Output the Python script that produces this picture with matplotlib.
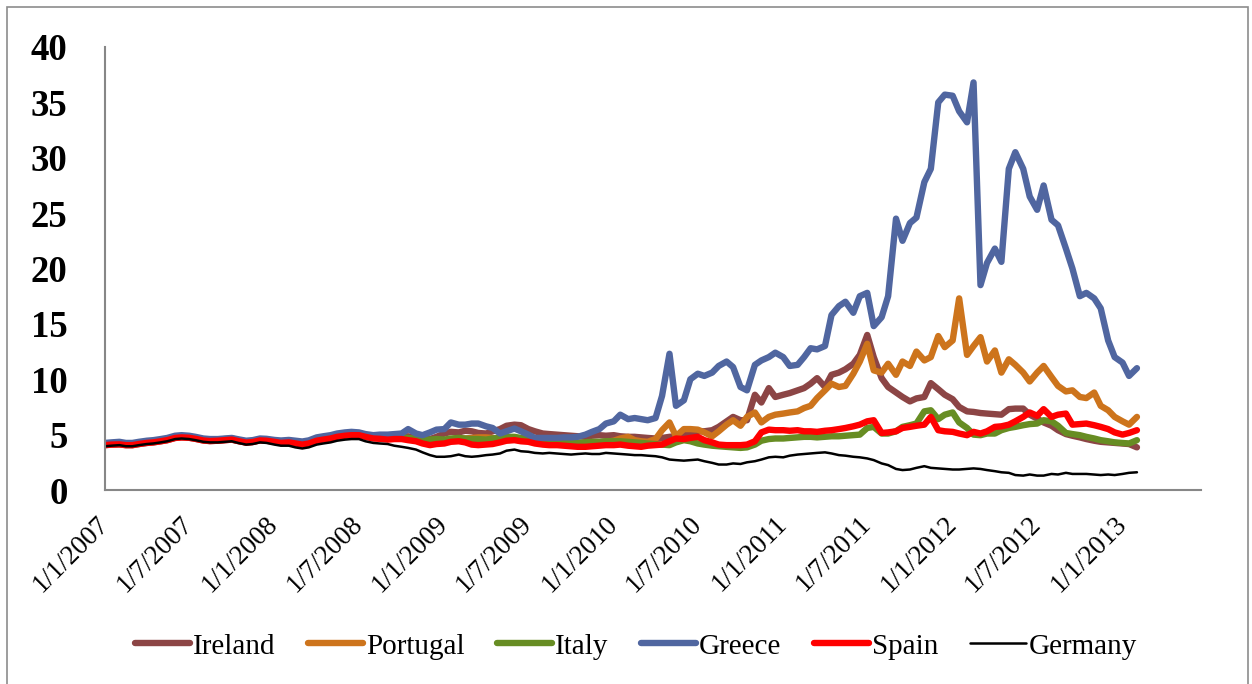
import numpy as np
import pandas as pd
import matplotlib
matplotlib.use('Agg')
import matplotlib.pyplot as plt
from matplotlib.patches import Rectangle

plt.rcParams['font.family'] = ['Liberation Serif', 'DejaVu Serif']

# semi-monthly readings (1st and 15th of each month), Jan 2007 - Feb 2013
dates = pd.date_range('2007-01-01', '2013-02-01', freq='SMS')

ireland = [
    4.05, 4.1, 4.12, 4.05, 4.05, 4.15, 4.25, 4.3, 4.4, 4.5, 4.7, 4.75, 4.72, 4.62, 4.47, 4.42, 4.45, 4.5, 4.55, 4.42, 4.3, 4.35, 4.5, 4.48,
    4.4, 4.3, 4.35, 4.3, 4.2, 4.3, 4.55, 4.65, 4.75, 4.9, 5.0, 5.05, 5.05, 4.9, 4.75, 4.75, 4.7, 4.75, 4.8, 4.85, 4.7, 4.55, 4.6, 4.8,
    5.1, 5.25, 5.2, 5.35, 5.3, 5.15, 5.1, 5.3, 5.5, 5.8, 5.9, 5.85, 5.5, 5.3, 5.1, 5.05, 5.0, 4.95, 4.9, 4.85, 4.8, 4.9, 4.95, 4.9,
    4.95, 4.85, 4.8, 4.8, 4.75, 4.7, 4.65, 4.7, 4.8, 4.85, 5.0, 5.1, 5.3, 5.3, 5.4, 5.7, 6.2, 6.6, 6.3, 6.3, 8.6, 7.9, 9.2, 8.4,
    8.6, 8.75, 9.0, 9.2, 9.6, 10.1, 9.3, 10.4, 10.6, 10.9, 11.4, 12.2, 14.0, 12.0, 10.1, 9.3, 8.8, 8.4, 8.0, 8.27, 8.4, 9.65, 9.1, 8.6,
    8.2, 7.5, 7.1, 7.05, 6.95, 6.9, 6.85, 6.8, 7.3, 7.35, 7.35, 6.8, 6.45, 6.1, 5.8, 5.4, 5.05, 4.9, 4.75, 4.6, 4.45, 4.35, 4.3, 4.25,
    4.2, 4.15, 3.85]

portugal = [
    4.1, 4.15, 4.17, 4.1, 4.1, 4.2, 4.3, 4.35, 4.45, 4.55, 4.75, 4.8, 4.77, 4.67, 4.52, 4.47, 4.5, 4.55, 4.6, 4.47, 4.33, 4.38, 4.53, 4.5,
    4.4, 4.3, 4.35, 4.3, 4.2, 4.3, 4.55, 4.65, 4.75, 4.9, 5.0, 5.05, 5.05, 4.9, 4.75, 4.7, 4.65, 4.7, 4.7, 4.6, 4.5, 4.35, 4.2, 4.3,
    4.3, 4.5, 4.6, 4.65, 4.7, 4.75, 4.75, 4.7, 4.55, 4.5, 4.55, 4.5, 4.5, 4.45, 4.4, 4.4, 4.35, 4.3, 4.25, 4.2, 4.2, 4.25, 4.3, 4.35,
    4.45, 4.65, 4.8, 4.5, 4.4, 4.35, 4.6, 5.4, 6.1, 4.85, 5.5, 5.5, 5.45, 5.2, 4.85, 5.3, 5.9, 6.3, 5.8, 6.6, 7.0, 6.1, 6.6, 6.8,
    6.9, 7.0, 7.1, 7.4, 7.6, 8.3, 9.0, 9.6, 9.3, 9.4, 10.5, 11.6, 13.2, 10.8, 10.6, 11.4, 10.4, 11.6, 11.2, 12.5, 11.7, 12.0, 13.9, 12.9,
    13.5, 17.3, 12.2, 13.0, 13.8, 11.6, 12.6, 10.6, 11.8, 11.3, 10.6, 9.8, 10.6, 11.2, 10.2, 9.4, 8.9, 9.0, 8.4, 8.3, 8.8, 7.6, 7.2, 6.6,
    6.2, 5.9, 6.6]

italy = [
    4.15, 4.2, 4.22, 4.15, 4.15, 4.25, 4.35, 4.4, 4.5, 4.6, 4.8, 4.85, 4.82, 4.72, 4.57, 4.52, 4.55, 4.6, 4.65, 4.52, 4.38, 4.43, 4.58, 4.55,
    4.45, 4.35, 4.4, 4.35, 4.25, 4.35, 4.6, 4.7, 4.8, 4.95, 5.05, 5.1, 5.1, 4.95, 4.8, 4.75, 4.7, 4.75, 4.75, 4.7, 4.65, 4.6, 4.55, 4.6,
    4.55, 4.65, 4.7, 4.65, 4.6, 4.6, 4.55, 4.65, 4.75, 4.8, 4.8, 4.7, 4.65, 4.5, 4.4, 4.35, 4.35, 4.3, 4.3, 4.25, 4.3, 4.35, 4.35, 4.4,
    4.4, 4.4, 4.35, 4.3, 4.25, 4.2, 4.15, 4.1, 4.05, 4.3, 4.5, 4.4, 4.2, 4.1, 4.0, 3.95, 3.9, 3.85, 3.8, 3.85, 4.1, 4.45, 4.6, 4.65,
    4.65, 4.7, 4.75, 4.8, 4.8, 4.75, 4.8, 4.85, 4.85, 4.9, 4.95, 5.0, 5.6, 5.7, 5.1, 5.1, 5.3, 5.7, 5.85, 6.0, 7.1, 7.2, 6.4, 6.8,
    7.0, 6.1, 5.6, 5.0, 4.95, 5.1, 5.1, 5.4, 5.6, 5.7, 5.85, 5.95, 6.0, 6.3, 6.2, 5.8, 5.15, 5.05, 4.95, 4.8, 4.65, 4.5, 4.4, 4.3,
    4.25, 4.2, 4.5]

greece = [
    4.25, 4.3, 4.35, 4.25, 4.25, 4.35, 4.45, 4.5, 4.6, 4.7, 4.9, 4.95, 4.9, 4.8, 4.65, 4.6, 4.6, 4.65, 4.7, 4.58, 4.45, 4.5, 4.65, 4.62,
    4.52, 4.47, 4.52, 4.45, 4.38, 4.48, 4.75, 4.85, 4.95, 5.1, 5.2, 5.25, 5.2, 5.05, 4.95, 5.0, 5.0, 5.05, 5.1, 5.5, 5.1, 4.95, 5.2, 5.45,
    5.5, 6.1, 5.9, 5.9, 6.0, 6.0, 5.75, 5.6, 5.1, 5.3, 5.55, 5.3, 5.0, 4.7, 4.7, 4.7, 4.7, 4.75, 4.75, 4.8, 5.0, 5.25, 5.5, 6.0,
    6.2, 6.8, 6.4, 6.5, 6.4, 6.3, 6.5, 8.5, 12.3, 7.6, 8.1, 10.0, 10.5, 10.3, 10.6, 11.2, 11.6, 11.1, 9.3, 9.0, 11.3, 11.7, 12.0, 12.4,
    12.0, 11.2, 11.3, 12.0, 12.8, 12.7, 13.0, 15.8, 16.6, 17.0, 16.0, 17.5, 17.8, 14.8, 15.6, 17.5, 24.5, 22.5, 24.1, 24.6, 27.8, 29.0, 35.0, 35.7,
    35.6, 34.2, 33.2, 36.8, 18.5, 20.5, 21.8, 20.6, 29.0, 30.5, 29.0, 26.5, 25.3, 27.5, 24.4, 23.9, 21.8, 20.0, 17.5, 17.8, 17.3, 16.4, 13.5, 12.0,
    11.5, 10.3, 11.0]

spain = [
    4.05, 4.1, 4.12, 4.05, 4.05, 4.15, 4.25, 4.3, 4.4, 4.5, 4.7, 4.75, 4.72, 4.62, 4.47, 4.42, 4.45, 4.5, 4.55, 4.42, 4.28, 4.33, 4.48, 4.45,
    4.35, 4.25, 4.3, 4.2, 4.1, 4.2, 4.45, 4.55, 4.65, 4.8, 4.9, 4.95, 4.95, 4.8, 4.65, 4.62, 4.55, 4.6, 4.6, 4.5, 4.4, 4.2, 4.05, 4.15,
    4.2, 4.35, 4.4, 4.3, 4.1, 4.05, 4.1, 4.15, 4.3, 4.45, 4.5, 4.4, 4.35, 4.2, 4.1, 4.05, 4.05, 4.0, 3.95, 3.9, 3.9, 3.95, 4.0, 4.05,
    4.05, 4.1, 4.0, 3.95, 3.9, 4.0, 4.05, 4.1, 4.4, 4.65, 4.6, 4.7, 4.8, 4.5, 4.3, 4.1, 4.05, 4.05, 4.05, 4.1, 4.4, 5.2, 5.45, 5.4,
    5.4, 5.35, 5.4, 5.3, 5.3, 5.25, 5.35, 5.4, 5.5, 5.6, 5.75, 5.9, 6.2, 6.3, 5.15, 5.2, 5.3, 5.6, 5.7, 5.8, 5.9, 6.6, 5.4, 5.3,
    5.25, 5.1, 4.95, 5.25, 5.1, 5.3, 5.7, 5.75, 5.9, 6.2, 6.6, 7.0, 6.7, 7.3, 6.6, 6.8, 6.9, 5.9, 5.95, 6.0, 5.85, 5.7, 5.5, 5.2,
    5.0, 5.15, 5.4]

germany = [
    3.95, 4.0, 4.05, 3.95, 3.95, 4.05, 4.15, 4.2, 4.3, 4.4, 4.6, 4.65, 4.6, 4.5, 4.35, 4.3, 4.3, 4.35, 4.4, 4.25, 4.1, 4.15, 4.3, 4.25,
    4.1, 4.0, 4.0, 3.85, 3.75, 3.85, 4.1, 4.2, 4.3, 4.45, 4.55, 4.6, 4.6, 4.4, 4.25, 4.2, 4.15, 4.0, 3.9, 3.8, 3.65, 3.4, 3.15, 3.0,
    3.0, 3.05, 3.2, 3.05, 3.0, 3.05, 3.15, 3.2, 3.3, 3.55, 3.65, 3.5, 3.45, 3.35, 3.3, 3.35, 3.3, 3.25, 3.2, 3.25, 3.3, 3.25, 3.25, 3.35,
    3.3, 3.25, 3.2, 3.15, 3.15, 3.1, 3.05, 2.95, 2.75, 2.7, 2.65, 2.7, 2.75, 2.6, 2.45, 2.3, 2.3, 2.4, 2.35, 2.5, 2.6, 2.75, 2.95, 3.0,
    2.95, 3.1, 3.2, 3.25, 3.3, 3.35, 3.4, 3.3, 3.15, 3.1, 3.0, 2.95, 2.85, 2.7, 2.4, 2.25, 1.9, 1.8, 1.85, 2.0, 2.15, 2.0, 1.95, 1.9,
    1.85, 1.85, 1.9, 1.95, 1.9, 1.8, 1.7, 1.6, 1.55, 1.35, 1.3, 1.4, 1.3, 1.3, 1.45, 1.4, 1.55, 1.45, 1.45, 1.45, 1.4, 1.35, 1.4, 1.35,
    1.45, 1.55, 1.6]

countries = ['Ireland', 'Portugal', 'Italy', 'Greece', 'Spain', 'Germany']
series = [ireland, portugal, italy, greece, spain, germany]
colors = ['#8C4545', '#CD741C', '#678D23', '#5066A0', '#FF0000', '#000000']
widths = [4.6, 4.6, 4.6, 4.6, 4.6, 1.8]

tick_dates = pd.date_range('2007-01-01', '2013-01-01', freq='6MS')
tick_labels = [f'{d.day}/{d.month}/{d.year}' for d in tick_dates]

for s in series:
    assert len(s) == len(dates), len(s)

fig = plt.figure(figsize=(12.52, 6.84), dpi=100)
ax = fig.add_axes([105 / 1252, 1 - 490 / 684, (1201 - 105) / 1252, (490 - 47) / 684])

lines = []
for name, vals, c, lw in zip(countries, series, colors, widths):
    ln, = ax.plot(dates, vals, color=c, lw=lw, label=name,
                  solid_capstyle='round', solid_joinstyle='round')
    lines.append(ln)

ax.set_ylim(0, 40)
ax.set_yticks(np.arange(0, 41, 5))
ax.set_xlim(pd.Timestamp('2007-01-01'), pd.Timestamp('2013-06-19'))
ax.set_xticks(tick_dates)
ax.set_xticklabels(tick_labels, rotation=45, ha='right', va='center',
                   rotation_mode='anchor', fontsize=19.5)

for sp in ['top', 'right']:
    ax.spines[sp].set_visible(False)
for sp in ['left', 'bottom']:
    ax.spines[sp].set_color('#878787')
    ax.spines[sp].set_linewidth(1.5)

ax.tick_params(axis='both', length=0)
ax.tick_params(axis='y', pad=27, labelsize=26.5)
ax.tick_params(axis='x', pad=22)
for t in ax.get_yticklabels():
    t.set_fontweight('bold')

fig.legend(handles=lines, loc='center', bbox_to_anchor=(0.508, 0.055), ncol=6,
           frameon=False, fontsize=21, handlelength=1.9, handletextpad=0.1,
           columnspacing=1.1)

fig.add_artist(Rectangle((7 / 1252, -0.05), (1248 - 7) / 1252, 1.05 - 7 / 684,
                         transform=fig.transFigure, fill=False,
                         edgecolor='#8c8c8c', lw=1.2))

fig.savefig('out.png', dpi=100)
